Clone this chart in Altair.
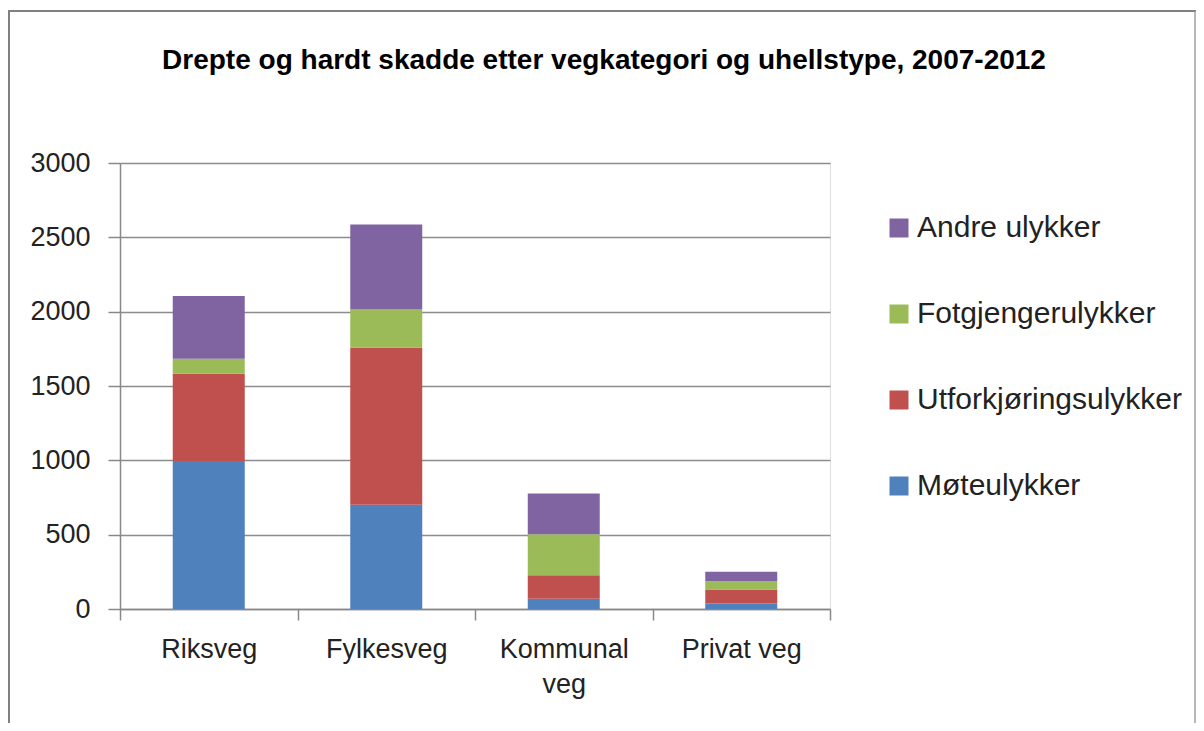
import altair as alt
import pandas as pd

categories = ["Riksveg", "Fylkesveg", "Kommunal veg", "Privat veg"]
series = ["Møteulykker", "Utforkjøringsulykker", "Fotgjengerulykker", "Andre ulykker"]
moete = [995, 702, 69, 37]
utfor = [588, 1056, 158, 94]
fotgj = [101, 257, 275, 56]
andre = [421, 572, 275, 63]
colors = ["#4F81BD", "#C0504D", "#9BBB59", "#8064A2"]
y_ticks = [0, 500, 1000, 1500, 2000, 2500, 3000]
title_text = "Drepte og hardt skadde etter vegkategori og uhellstype, 2007-2012"

rows = []
for si, (name, vals) in enumerate(zip(series, [moete, utfor, fotgj, andre])):
    for c, v in zip(categories, vals):
        rows.append({"kategori": c, "type": name, "verdi": v, "rekkefolge": si})
df = pd.DataFrame(rows)

FONT = "Liberation Sans"
legend_order = series[::-1]
legend_colors = colors[::-1]

bars = alt.Chart(df).mark_bar(width=72).encode(
    x=alt.X("kategori:N", sort=categories, title=None,
            scale=alt.Scale(paddingInner=0, paddingOuter=0),
            axis=alt.Axis(labelAngle=0, tickBand="extent", tickSize=11,
                          tickColor="#888888", domainColor="#888888", domainWidth=1.5,
                          tickWidth=1.5, labelFontSize=27, labelFont=FONT,
                          labelColor="#222222", labelPadding=16, labelLineHeight=35,
                          labelExpr="datum.value == 'Kommunal veg' ? ['Kommunal', 'veg'] : datum.value")),
    y=alt.Y("verdi:Q", stack="zero", title=None,
            scale=alt.Scale(domain=[0, 3000], nice=False),
            axis=alt.Axis(values=y_ticks, format="d", tickSize=12, tickColor="#888888", tickWidth=1.5,
                          domainColor="#888888", domainWidth=1.5,
                          gridColor="#8c8c8c", gridWidth=1.5,
                          labelFontSize=27, labelFont=FONT, labelColor="#222222",
                          labelPadding=18)),
    color=alt.Color("type:N", sort=legend_order,
                    scale=alt.Scale(domain=legend_order, range=legend_colors),
                    legend=alt.Legend(title=None, orient="none", legendX=764, legendY=50,
                                      symbolType="square", symbolSize=361,
                                      symbolStrokeWidth=0, labelFontSize=30, labelFont=FONT,
                                      labelColor="#222222", labelOffset=3, rowPadding=56,
                                      labelLimit=0, padding=0)),
    order=alt.Order("rekkefolge:Q", sort="ascending"),
)

one = alt.Data(values=[{}])
title_mark = alt.Chart(one).mark_text(
    font=FONT, fontSize=28, fontWeight="bold", color="#000000",
    align="center", baseline="alphabetic").encode(
    x=alt.value(484), y=alt.value(-94), text=alt.value(title_text))
top_line = alt.Chart(one).mark_rule(color="#808080", strokeWidth=2).encode(
    x=alt.value(-112), x2=alt.value(1076), y=alt.value(-152))
left_line = alt.Chart(one).mark_rule(color="#808080", strokeWidth=2).encode(
    x=alt.value(-111), y=alt.value(-152), y2=alt.value(560))
right_line = alt.Chart(one).mark_rule(color="#a0a0a0", strokeWidth=1.5).encode(
    x=alt.value(1075), y=alt.value(-152), y2=alt.value(560))

chart = alt.layer(bars, title_mark, top_line, left_line, right_line).properties(
    width=710, height=446,
    padding={"left": 112, "top": 155, "right": 366, "bottom": 114},
    autosize=alt.AutoSizeParams(type="none"),
).configure_view(stroke=None).configure(background="white")

chart.save("out.html", embed_options={"renderer": "svg", "actions": False})
